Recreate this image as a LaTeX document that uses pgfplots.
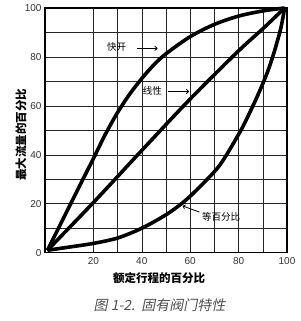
\documentclass[border=0pt]{standalone}
\usepackage{pgfplots}
\pgfplotsset{compat=1.18}
\usetikzlibrary{arrows.meta}
\usepackage{fontspec}
\setmainfont{Liberation Sans}
\newfontfamily\cjk{Noto Sans CJK SC}
\newfontfamily\cjkit[FakeSlant=0.2]{Noto Sans CJK SC}
\definecolor{tick}{HTML}{333333}
\definecolor{cap}{HTML}{505050}
\begin{document}
\begin{tikzpicture}
\path[use as bounding box] (-45pt,-68.3pt) rectangle (255pt,252.7pt);
\begin{axis}[
  scale only axis, width=242pt, height=244.7pt,
  xmin=0, xmax=100, ymin=0, ymax=100,
  xtick={20,40,...,100}, ytick={0,20,...,100},
  minor tick num=1, grid=both,
  major grid style={line width=0.6pt, black!85},
  minor grid style={line width=0.6pt, black!85},
  major tick length=0pt, minor tick length=0pt,
  axis line style={line width=1.2pt},
  /pgf/number format/assume math mode=true,
  tick label style={font=\fontsize{10}{12}\selectfont, color=tick},
  xticklabel style={yshift=-1pt},
  clip=false,
]
\addplot[line width=3.6pt, smooth, black] coordinates {
 (1,1) (10,18.8) (20,38.5) (25,48.5) (30,57.3) (35,64.8) (40,71.2) (45,76.8)
 (50,81.3) (60,88.3) (70,93.3) (80,96.7) (90,98.8) (99,100)};
\addplot[line width=3.6pt, smooth, black] coordinates {
 (1,1) (20,20.5) (40,41.8) (60,62.8) (80,82.5) (90,91.5) (99,100)};
\addplot[line width=3.6pt, smooth, black] coordinates {
 (1,1) (10,2.3) (20,3.8) (30,6) (40,10) (50,15.5) (57,20.5) (62.4,25.4)
 (72,35.5) (80.2,48.7) (84,56) (88,64.5) (92,74) (95,83) (97.5,92) (99,100)};
\node[font=\cjk\fontsize{9.5}{11}\selectfont] at (axis cs:29.6,84.2) {快开};
\draw[line width=0.8pt, -{To[length=3pt,width=5pt]}] (axis cs:38,83.5) -- (axis cs:46.5,83.5);
\node[font=\cjk\fontsize{9.5}{11}\selectfont] at (axis cs:44.4,66) {线性};
\draw[line width=0.8pt, -{To[length=3pt,width=5pt]}] (axis cs:51,65.9) -- (axis cs:59.5,65.9);
\node[font=\cjk\fontsize{9.5}{11}\selectfont] at (axis cs:72.8,14.6) {等百分比};
\draw[line width=0.8pt, -{To[length=3pt,width=5pt]}] (axis cs:63.8,16.6) -- (axis cs:56.9,19.1);
\end{axis}
\node[font=\cjk\bfseries\fontsize{11.5}{13}\selectfont] at (114pt,-25.3pt) {额定行程的百分比};
\node[font=\cjk\bfseries\fontsize{11.5}{13}\selectfont, rotate=90] at (-24pt,117.7pt) {最大流量的百分比};
\node[font=\cjkit\fontsize{14}{16}\selectfont, text=cap] at (114.5pt,-52.3pt) {图 1-2.\ \ 固有阀门特性};
\end{tikzpicture}
\end{document}
